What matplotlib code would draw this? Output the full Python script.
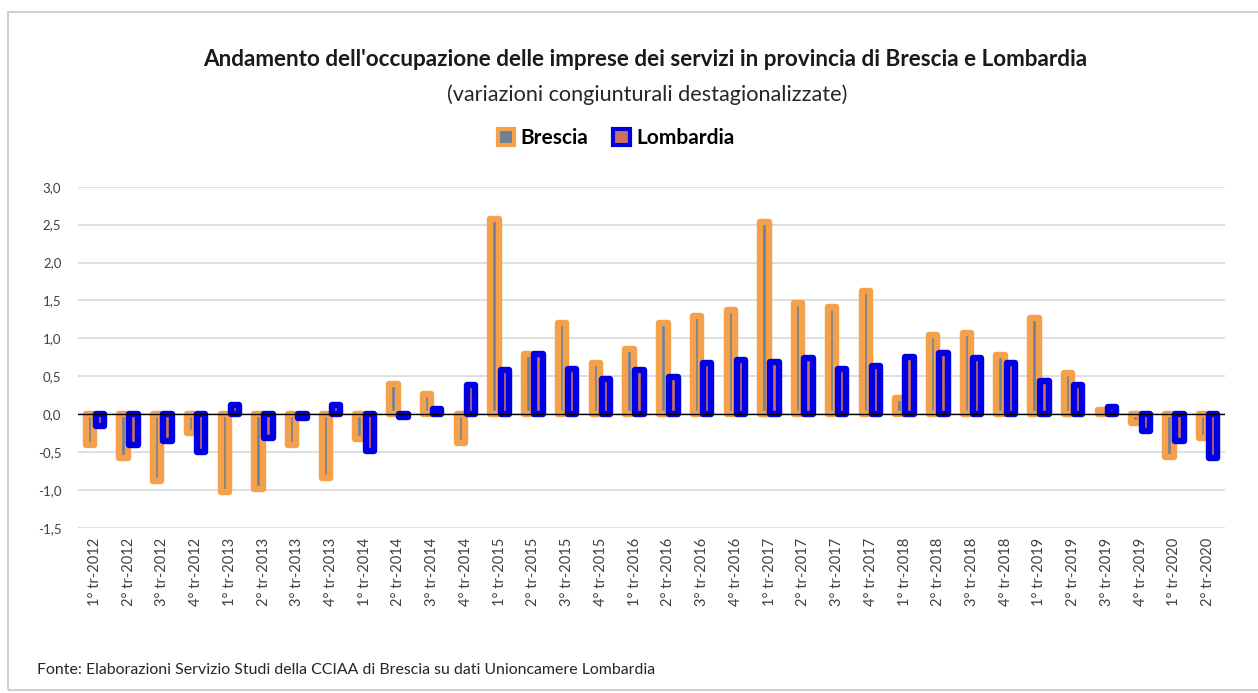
import matplotlib
matplotlib.use('Agg')
import matplotlib.pyplot as plt
from matplotlib.patches import Patch, Rectangle
import numpy as np

quarters = ["1°", "2°", "3°", "4°"]
years = ["2012", "2013", "2014", "2015", "2016", "2017", "2018", "2019", "2020"]
labels = [q + " tr-" + y for y in years for q in quarters][:34]

brescia = [-0.40, -0.58, -0.88, -0.25, -1.02, -0.98, -0.40, -0.84, -0.33, 0.40,
           0.27, -0.38, 2.57, 0.80, 1.20, 0.68, 0.86, 1.20, 1.30, 1.37,
           2.53, 1.47, 1.41, 1.62, 0.22, 1.05, 1.07, 0.78, 1.27, 0.55,
           0.06, -0.11, -0.57, -0.31]
lombardia = [-0.15, -0.40, -0.35, -0.50, 0.12, -0.31, -0.05, 0.12, -0.48, -0.03,
             0.07, 0.38, 0.58, 0.80, 0.60, 0.47, 0.58, 0.49, 0.68, 0.71,
             0.69, 0.74, 0.60, 0.63, 0.76, 0.81, 0.74, 0.68, 0.44, 0.39,
             0.09, -0.22, -0.35, -0.58]

plt.rcParams['font.family'] = ['Lato', 'DejaVu Sans']

fig = plt.figure(figsize=(12.58, 6.93), dpi=100)
# light frame round the chart
fig.patches.append(Rectangle((8 / 1258, 3 / 693), 1.2, 678 / 693, transform=fig.transFigure,
                             fill=False, edgecolor='#d0d0d0', linewidth=1.5))

ax = fig.add_axes([78 / 1258, 1 - 528 / 693, (1225 - 78) / 1258, (528 - 186.7) / 693])
x = np.arange(len(labels))
orange = '#f5a04a'
blue = '#0000e6'
ax.bar(x - 0.15, brescia, width=0.25, color='#6f8199', edgecolor=orange, linewidth=4.6,
       joinstyle='round', zorder=3)
ax.bar(x + 0.15, lombardia, width=0.25, color='#d0705a', edgecolor=blue, linewidth=4.6,
       joinstyle='round', zorder=4)
ax.axhline(0, color='black', linewidth=1, zorder=5)

ax.set_xlim(-0.5, len(labels) - 0.5)
ax.set_ylim(-1.5, 3.0)
yt = np.arange(-1.5, 3.01, 0.5)
ax.set_yticks(yt)
ax.set_yticklabels([("%.1f" % v).replace('.', ',') for v in yt], fontsize=9.5, color='#404040')
ax.set_xticks(x)
ax.set_xticklabels(labels, rotation=90, fontsize=10.5, color='#404040')
ax.tick_params(axis='y', length=0, pad=12)
ax.tick_params(axis='x', length=0, pad=7)
ax.grid(axis='y', color='#d9d9d9', linewidth=1.2, zorder=0)
for s in ax.spines.values():
    s.set_visible(False)

fig.text(645 / 1258, 1 - 60 / 693, "Andamento dell'occupazione delle imprese dei servizi in provincia di Brescia e Lombardia",
         ha='center', va='center', fontsize=16.2, fontweight='bold', color='#1a1a1a')
fig.text(647 / 1258, 1 - 95 / 693, "(variazioni congiunturali destagionalizzate)",
         ha='center', va='center', fontsize=15.6, color='#262626')

handles = [Patch(facecolor='#6f8199', edgecolor=orange, linewidth=3, label='Brescia'),
           Patch(facecolor='#d0705a', edgecolor=blue, linewidth=3, label='Lombardia')]
fig.legend(handles=handles, loc='center', bbox_to_anchor=(616 / 1258, 1 - 138 / 693), ncol=2,
           frameon=False, prop={'weight': 'bold', 'size': 15}, handlelength=0.8, handleheight=0.8,
           handletextpad=0.3, columnspacing=1.2)

fig.text(37 / 1258, 1 - 670 / 693,
         "Fonte: Elaborazioni Servizio Studi della CCIAA di Brescia su dati Unioncamere Lombardia",
         ha='left', va='center', fontsize=11.4, color='#262626')

fig.savefig('out.png', dpi=100)
